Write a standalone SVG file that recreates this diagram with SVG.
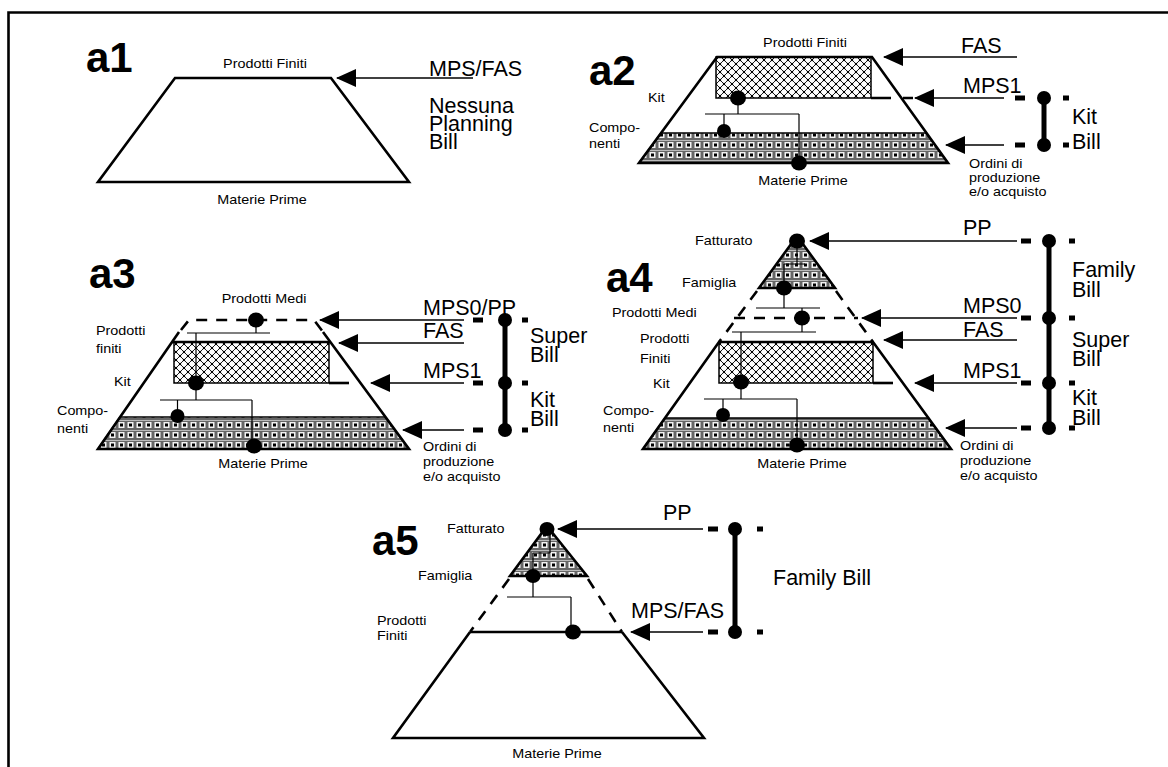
<svg xmlns="http://www.w3.org/2000/svg" width="1168" height="767" viewBox="0 0 1168 767">
<style>
text{font-family:"Liberation Sans",Arial,Helvetica,sans-serif;fill:#000}
.s{font-size:12.5px}
.L{font-size:21.5px}
.h{font-size:42px;font-weight:bold}
.m{text-anchor:middle}
.thick{stroke:#000;stroke-width:2.6;fill:none;stroke-linejoin:miter}
.thin{stroke:#000;stroke-width:1.2;fill:none}
.dash{stroke:#000;stroke-width:2.6;stroke-dasharray:11 9;fill:none}
.arr{stroke:#000;stroke-width:1.4;fill:none;marker-end:url(#ah)}
.vbar{stroke:#000;stroke-width:5}
.chk{fill:url(#chk);stroke:#000;stroke-width:1.5}
.gry{fill:url(#gry);stroke:#000;stroke-width:1.5}
</style>
<defs>
<marker id="ah" markerWidth="20" markerHeight="18" refX="19" refY="9" orient="auto" markerUnits="userSpaceOnUse"><path d="M0,0 L20,9 L0,18 z" fill="#000"/></marker>
<pattern id="chk" width="8" height="8" patternUnits="userSpaceOnUse">
<rect width="8" height="8" fill="#fff"/>
<path d="M0,0 L8,8 M8,0 L0,8" stroke="#000" stroke-width="0.9"/>
<rect x="2.9" y="2.9" width="2.2" height="2.2" fill="#000"/>
<rect x="-1.1" y="-1.1" width="2.2" height="2.2" fill="#000"/><rect x="6.9" y="-1.1" width="2.2" height="2.2" fill="#000"/>
<rect x="-1.1" y="6.9" width="2.2" height="2.2" fill="#000"/><rect x="6.9" y="6.9" width="2.2" height="2.2" fill="#000"/>
</pattern>
<pattern id="gry" width="9" height="10" patternUnits="userSpaceOnUse">
<rect width="9" height="10" fill="#666"/>
<rect x="1.5" y="2" width="6" height="6" fill="#f2f2f2"/>
<rect x="3" y="3.5" width="3" height="3" fill="#000"/>
<path d="M0,0.5 H9" stroke="#bbb" stroke-width="1"/>
</pattern>
</defs>
<rect width="1168" height="767" fill="#fff"/>
<g id="frame"><path d="M8.5,767 L8.5,12.5 L1168,12.5" class="thick"/></g>

<!-- a1 -->
<g id="a1">
<text class="h" x="86" y="72">a1</text>
<polygon points="175,78 331,78 409,182 98,182" class="thick"/>
<text class="s m" transform="translate(265,68) scale(1.15,1)">Prodotti Finiti</text>
<text class="s m" transform="translate(262,204) scale(1.15,1)">Materie Prime</text>
<text class="L" x="429" y="76">MPS/FAS</text>
<text class="L" x="429" y="113">Nessuna</text>
<text class="L" x="429" y="131">Planning</text>
<text class="L" x="429" y="149">Bill</text>
</g>

<!-- a2 -->
<g id="a2">
<text class="h" x="589" y="85">a2</text>
<rect x="716" y="57" width="155" height="41" class="chk"/>
<polygon points="661,133 926,133 948,163 639,163" class="gry"/>
<polygon points="717,57 872,57 948,163 639,163" class="thick"/>
<line x1="871" y1="98" x2="913" y2="98" class="dash" style="stroke-dasharray:20 12"/>
<path d="M738,98 V114 M705,114 H799 M724,114 V131 M799,114 V163" class="thin"/>
<ellipse cx="738" cy="98" rx="8" ry="7.5"/>
<ellipse cx="724" cy="131" rx="7" ry="7"/>
<ellipse cx="799" cy="163" rx="8" ry="7.5"/>
<text class="s m" transform="translate(805,47) scale(1.15,1)">Prodotti Finiti</text>
<text class="s" transform="translate(648,102) scale(1.15,1)">Kit</text>
<text class="s" transform="translate(589,132) scale(1.15,1)">Compo-</text>
<text class="s" transform="translate(589,148) scale(1.15,1)">nenti</text>
<text class="s m" transform="translate(803,185) scale(1.15,1)">Materie Prime</text>
<text class="s" transform="translate(969,168) scale(1.15,1)">Ordini di</text>
<text class="s" transform="translate(969,182) scale(1.15,1)">produzione</text>
<text class="s" transform="translate(969,196) scale(1.15,1)">e/o acquisto</text>
<text class="L" x="961" y="53">FAS</text>
<text class="L" x="963" y="93">MPS1</text>
<text class="L" x="1072" y="124">Kit</text>
<text class="L" x="1072" y="149">Bill</text>
</g>

<!-- a3 -->
<g id="a3">
<text class="h" x="89" y="288">a3</text>
<rect x="174" y="342" width="155" height="41" class="chk"/>
<polygon points="120,417 385,417 409,449 98,449" class="gry"/>
<path d="M179,332 L98,449 L409,449 L323,332" class="thick"/>
<line x1="172" y1="342" x2="330" y2="342" class="thick"/>
<path d="M181,330 L189,320 L314,320 L323,332" class="dash"/>
<line x1="329" y1="383" x2="359" y2="383" class="dash" style="stroke-dasharray:20 12"/>
<path d="M256,320 V333 M187,333 H270 M196,333 V383 M196,383 V400 M160,400 H252 M177.5,400 V416 M252,400 V446" class="thin"/>
<ellipse cx="256" cy="320" rx="8" ry="7.5"/>
<ellipse cx="196" cy="383" rx="8" ry="7.5"/>
<ellipse cx="177.5" cy="416" rx="7" ry="7"/>
<ellipse cx="254" cy="446" rx="8" ry="7.5"/>
<text class="s m" transform="translate(264,303) scale(1.15,1)">Prodotti Medi</text>
<text class="s" transform="translate(96,335) scale(1.15,1)">Prodotti</text>
<text class="s" transform="translate(96,353) scale(1.15,1)">finiti</text>
<text class="s" transform="translate(114,386) scale(1.15,1)">Kit</text>
<text class="s" transform="translate(57,415) scale(1.15,1)">Compo-</text>
<text class="s" transform="translate(57,433) scale(1.15,1)">nenti</text>
<text class="s m" transform="translate(263,468) scale(1.15,1)">Materie Prime</text>
<text class="s" transform="translate(423,451) scale(1.15,1)">Ordini di</text>
<text class="s" transform="translate(423,466) scale(1.15,1)">produzione</text>
<text class="s" transform="translate(423,481) scale(1.15,1)">e/o acquisto</text>
<text class="L" x="423" y="315">MPS0/PP</text>
<text class="L" x="423" y="338">FAS</text>
<text class="L" x="423" y="378">MPS1</text>
<text class="L" x="530" y="343">Super</text>
<text class="L" x="530" y="362">Bill</text>
<text class="L" x="530" y="407">Kit</text>
<text class="L" x="530" y="426">Bill</text>
</g>

<!-- a4 -->
<g id="a4">
<text class="h" x="606" y="292">a4</text>
<polygon points="797,236 835,288 759,288" class="gry" style="stroke-width:2.6"/>
<path d="M757,291 L719,342 M836,291 L873,342" class="dash"/>
<line x1="734" y1="318" x2="858" y2="318" class="dash"/>
<rect x="719" y="342" width="154" height="41" class="chk"/>
<polygon points="665,418 928,418 951,449 643,449" class="gry"/>
<path d="M719,342 L643,449 L951,449 L873,342 Z" class="thick"/>
<line x1="873" y1="383" x2="905" y2="383" class="dash" style="stroke-dasharray:20 12"/>
<path d="M797,241 V264 M784,264 H805 M784,264 V288 M784,288 V308 M756,308 H820 M802,308 V318 M802,318 V332 M732,332 H816 M741,332 V382 M741,382 V399 M704,399 H797 M723,399 V415 M797,399 V445" class="thin"/>
<ellipse cx="797" cy="241" rx="8" ry="7.5"/>
<ellipse cx="784" cy="288" rx="8" ry="7.5"/>
<ellipse cx="802" cy="318" rx="8" ry="7.5"/>
<ellipse cx="741" cy="382" rx="8" ry="7.5"/>
<ellipse cx="723" cy="415" rx="7" ry="7"/>
<ellipse cx="797" cy="445" rx="8" ry="7.5"/>
<text class="s" transform="translate(695,245) scale(1.15,1)">Fatturato</text>
<text class="s" transform="translate(682,287) scale(1.15,1)">Famiglia</text>
<text class="s" transform="translate(612,317) scale(1.15,1)">Prodotti Medi</text>
<text class="s" transform="translate(640,343) scale(1.15,1)">Prodotti</text>
<text class="s" transform="translate(640,363) scale(1.15,1)">Finiti</text>
<text class="s" transform="translate(653,388) scale(1.15,1)">Kit</text>
<text class="s" transform="translate(603,415) scale(1.15,1)">Compo-</text>
<text class="s" transform="translate(603,432) scale(1.15,1)">nenti</text>
<text class="s m" transform="translate(802,468) scale(1.15,1)">Materie Prime</text>
<text class="s" transform="translate(960,450) scale(1.15,1)">Ordini di</text>
<text class="s" transform="translate(960,465) scale(1.15,1)">produzione</text>
<text class="s" transform="translate(960,480) scale(1.15,1)">e/o acquisto</text>
<text class="L" x="963" y="235">PP</text>
<text class="L" x="963" y="313">MPS0</text>
<text class="L" x="963" y="337">FAS</text>
<text class="L" x="963" y="378">MPS1</text>
<text class="L" x="1072" y="277">Family</text>
<text class="L" x="1072" y="297">Bill</text>
<text class="L" x="1072" y="347">Super</text>
<text class="L" x="1072" y="366">Bill</text>
<text class="L" x="1072" y="405">Kit</text>
<text class="L" x="1072" y="425">Bill</text>
</g>

<!-- a5 -->
<g id="a5">
<text class="h" x="372" y="555">a5</text>
<polygon points="547,526 587,576 510,576" class="gry" style="stroke-width:2.6"/>
<path d="M509,579 L470,632 M588,579 L622,632" class="dash"/>
<line x1="470" y1="632" x2="622" y2="632" class="thick"/>
<path d="M470,632 L393,738 L704,738 L622,632" class="thick"/>
<path d="M550,529 V553 M533,553 H550 M533,553 V576 M533,576 V597 M507,597 H571 M571,597 V632" class="thin"/>
<ellipse cx="547" cy="529" rx="7.5" ry="7"/>
<ellipse cx="533" cy="576" rx="7.5" ry="7"/>
<ellipse cx="573" cy="632" rx="8" ry="7.5"/>
<text class="s" transform="translate(447,533) scale(1.15,1)">Fatturato</text>
<text class="s" transform="translate(418,580) scale(1.15,1)">Famiglia</text>
<text class="s" transform="translate(377,625) scale(1.15,1)">Prodotti</text>
<text class="s" transform="translate(377,640) scale(1.15,1)">Finiti</text>
<text class="s m" transform="translate(557,758) scale(1.15,1)">Materie Prime</text>
<text class="L" x="663" y="520">PP</text>
<text class="L" x="631" y="618">MPS/FAS</text>
<text class="L" x="773" y="585">Family Bill</text>
</g>

<!-- connectors -->
<g id="connectors">
<line x1="473" y1="78" x2="337" y2="78" class="arr"/>
<line x1="1017" y1="57" x2="884" y2="57" class="arr"/>
<line x1="1004" y1="98" x2="915" y2="98" class="arr"/>
<line x1="1004" y1="145" x2="946" y2="145" class="arr"/>
<line x1="464" y1="320" x2="320" y2="320" class="arr"/>
<line x1="464" y1="343" x2="339" y2="343" class="arr"/>
<line x1="464" y1="383" x2="371" y2="383" class="arr"/>
<line x1="464" y1="430" x2="403" y2="430" class="arr"/>
<line x1="1017" y1="241" x2="810" y2="241" class="arr"/>
<line x1="1017" y1="318" x2="862" y2="318" class="arr"/>
<line x1="1017" y1="340" x2="884" y2="340" class="arr"/>
<line x1="1017" y1="383" x2="915" y2="383" class="arr"/>
<line x1="1017" y1="428" x2="946" y2="428" class="arr"/>
<line x1="703" y1="529" x2="558" y2="529" class="arr"/>
<line x1="703" y1="632" x2="631" y2="632" class="arr"/>
</g>

<!-- brackets -->
<g id="bracket-a2">
<line x1="1044" y1="98" x2="1044" y2="145" class="vbar"/>
<circle cx="1044" cy="98" r="7"/><circle cx="1044" cy="145" r="7"/>
<rect x="1015" y="95.5" width="10" height="5"/><rect x="1063" y="95.5" width="6" height="5"/>
<rect x="1015" y="142.5" width="10" height="5"/><rect x="1063" y="142.5" width="6" height="5"/>
</g>
<g id="bracket-a3">
<line x1="505" y1="320" x2="505" y2="430" class="vbar"/>
<circle cx="505" cy="320" r="7"/><circle cx="505" cy="383" r="7"/><circle cx="505" cy="430" r="7"/>
<rect x="473" y="317.5" width="10" height="5"/><rect x="522" y="317.5" width="6" height="5"/>
<rect x="473" y="380.5" width="10" height="5"/><rect x="522" y="380.5" width="6" height="5"/>
<rect x="473" y="427.5" width="10" height="5"/><rect x="522" y="427.5" width="6" height="5"/>
</g>
<g id="bracket-a4">
<line x1="1049" y1="241" x2="1049" y2="428" class="vbar"/>
<circle cx="1049" cy="241" r="7"/><circle cx="1049" cy="318" r="7"/><circle cx="1049" cy="383" r="7"/><circle cx="1049" cy="428" r="7"/>
<rect x="1021" y="238.5" width="10" height="5"/><rect x="1069" y="238.5" width="6" height="5"/>
<rect x="1021" y="315.5" width="10" height="5"/><rect x="1069" y="315.5" width="6" height="5"/>
<rect x="1021" y="380.5" width="10" height="5"/><rect x="1069" y="380.5" width="6" height="5"/>
<rect x="1021" y="425.5" width="10" height="5"/><rect x="1069" y="425.5" width="6" height="5"/>
</g>
<g id="bracket-a5">
<line x1="735" y1="529" x2="735" y2="632" class="vbar"/>
<circle cx="735" cy="529" r="7"/><circle cx="735" cy="632" r="7"/>
<rect x="708" y="526.5" width="10" height="5"/><rect x="757" y="526.5" width="6" height="5"/>
<rect x="708" y="629.5" width="10" height="5"/><rect x="757" y="629.5" width="6" height="5"/>
</g>
</svg>
